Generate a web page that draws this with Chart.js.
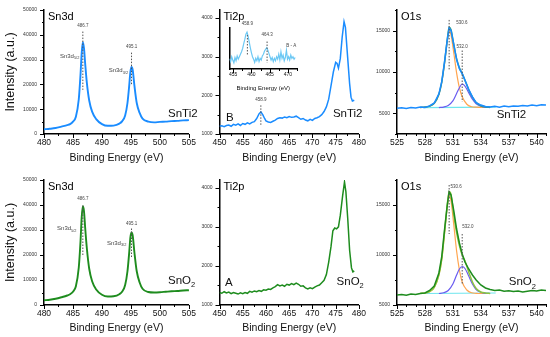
<!DOCTYPE html>
<html>
<head>
<meta charset="utf-8">
<script src="https://cdn.jsdelivr.net/npm/chart.js@4.4.0/dist/chart.umd.min.js"></script>
<style>
body { margin: 0; background: #fff; width: 550px; height: 337px; position: relative; overflow: hidden; }
canvas { position: absolute; }
</style>
</head>
<body>
<canvas id="p1" width="200" height="167" style="left:0;top:0"></canvas>
<canvas id="p2" width="190" height="167" style="left:180px;top:0"></canvas>
<canvas id="p3" width="190" height="167" style="left:360px;top:0"></canvas>
<canvas id="p4" width="200" height="167" style="left:0;top:170px"></canvas>
<canvas id="p5" width="190" height="167" style="left:180px;top:170px"></canvas>
<canvas id="p6" width="190" height="167" style="left:360px;top:170px"></canvas>
<canvas id="inset" width="90" height="76" style="left:214px;top:18px"></canvas>
<script>
// Sn3d spectra (binding energy, counts)
const sn3dX = [480,481,482,483,484,484.5,485,485.5,486,486.3,486.5,486.7,486.9,487.1,487.4,487.8,488.3,489,490,491,492,493,493.5,494,494.4,494.7,494.9,495.1,495.3,495.6,496,496.5,497,498,499,500,501,502,503,504,505]
const sn3dSnTi2 = [1900,2100,2400,3000,3600,4000,5000,7000,14000,24000,32500,37000,34500,28500,20500,13500,9000,6000,4000,3300,3400,4200,5200,7500,12500,19500,25000,27000,25800,19500,12500,8500,6200,5000,4700,4900,5000,5200,5300,5500,5600]
const sn3dSnO2 = [1900,2100,2500,3100,3800,4300,5300,7500,15000,25500,35000,39500,37500,31000,22500,14500,9500,6200,4100,3400,3500,4300,5400,8000,13500,21000,27000,29000,27800,21000,13500,9000,6500,5200,5000,5100,5300,5500,5600,5800,5900]
const sn3dPeaks = [486.7, 495.1]

// Ti2p region
const ti2pSnTi2X = [450,450.5,451,451.5,452,452.5,453,453.5,454,454.5,455,455.5,456,456.5,457,457.5,458,458.5,458.9,459.3,459.7,460,460.5,461,461.5,462,462.5,463,463.5,464,464.5,465,465.5,466,466.5,467,467.5,468,468.5,469,469.5,470,470.5,471,471.5,472,472.5,473,473.5,474,474.5,475,475.3,475.6,476,476.4,476.8,477.1,477.5,478,478.3,478.6,479]
const ti2pSnTi2 = [1200,1210,1190,1220,1230,1200,1250,1230,1260,1220,1270,1250,1290,1260,1300,1320,1400,1520,1570,1500,1400,1340,1310,1300,1330,1360,1400,1420,1410,1440,1420,1450,1430,1440,1460,1420,1380,1400,1360,1340,1380,1350,1400,1420,1450,1500,1580,1700,1900,2250,2600,2850,2820,2700,2950,3500,3900,3750,3100,2300,1950,1850,1870]
const ti2pSnO2X = [450,450.5,451,451.5,452,452.5,453,453.5,454,454.5,455,455.5,456,456.5,457,457.5,458,458.5,459,459.5,460,460.5,461,461.5,462,462.5,463,463.5,464,464.5,465,465.5,466,466.5,467,467.5,468,468.5,469,469.5,470,470.5,471,471.5,472,472.5,473,473.5,474,474.4,474.8,475.2,475.6,476,476.5,476.9,477.2,477.6,478,478.4,478.7,479]
const ti2pSnO2 = [1320,1300,1340,1310,1330,1290,1320,1300,1280,1310,1290,1320,1300,1350,1330,1360,1340,1370,1350,1390,1380,1410,1400,1440,1470,1520,1490,1510,1480,1530,1510,1550,1520,1560,1530,1480,1490,1440,1410,1440,1420,1460,1490,1510,1570,1630,1780,2100,2500,2900,2970,2950,3000,3300,3800,4150,3900,3200,2400,1950,1850,1870]
const ti2pPeak = [458.9]

// inset: difference spectrum B - A
const insetX = [454,454.3,454.6,454.9,455.2,455.5,455.8,456.1,456.4,456.7,457,457.3,457.6,457.9,458.2,458.5,458.8,459.1,459.4,459.7,460,460.3,460.6,460.9,461.2,461.5,461.8,462.1,462.4,462.7,463,463.3,463.6,463.9,464.2,464.5,464.8,465.1,465.4,465.7,466,466.3,466.6,466.9,467.2,467.5,467.8,468.1,468.4,468.7,469,469.3,469.6,469.9,470.2,470.5,470.8,471.1,471.4,471.7,472]
const insetDiff = [25,18,30,22,15,28,20,32,24,30,36,42,50,62,72,85,90,80,66,52,40,30,24,16,26,20,30,18,26,22,32,36,44,48,52,46,38,30,22,28,18,26,20,30,24,36,22,42,26,34,20,28,46,24,30,22,34,26,30,24,28]
const insetPeaks = [458.9, 464.3]

// O1s region
const o1sX = [525,525.5,526,526.5,527,527.5,528,528.5,529,529.5,529.8,530.1,530.4,530.6,530.8,531.1,531.4,531.7,532,532.3,532.7,533.1,533.5,534,534.5,535,535.5,536,536.5,537,537.5,538,538.5,539,539.5,540,540.5,541]
const o1sSnTi2 = [5600,5680,5580,5700,5650,5760,5720,5900,6250,7350,8800,11200,13900,15300,15000,13300,11500,10400,9800,9000,7900,7000,6300,6000,5820,5780,5850,5750,5880,5800,5900,5850,5950,5880,6000,5920,6050,6000]
const o1sSnO2 = [6000,6050,5980,6100,6060,6150,6200,6450,6900,8200,9800,12500,15000,16300,16000,14400,12600,11200,10100,9300,8600,8000,7500,7000,6700,6550,6450,6500,6380,6420,6350,6400,6300,6380,6450,6400,6500,6450]
const latticeX = [527.5,528,528.5,529,529.5,529.8,530.1,530.4,530.6,530.8,531.1,531.4,531.7,532,532.5,533,533.5,534,535]
const latticeSnTi2 = [5700,5750,5850,6200,7300,8700,11000,13700,14950,14500,12300,9900,8100,7000,6100,5800,5740,5720,5720]
const latticeSnO2 = [6150,6200,6320,6750,8000,9500,12100,14800,15900,15400,13000,10400,8500,7300,6500,6220,6170,6150,6150]
const surfaceX = [529.5,530,530.5,531,531.4,531.7,532,532.3,532.7,533.1,533.5,534,534.5,535]
const surfaceSnTi2 = [5700,5760,5950,6500,7400,8100,8550,8300,7500,6700,6150,5850,5740,5700]
const surfaceSnO2 = [6150,6220,6450,7100,8000,8600,8850,8650,7900,7100,6550,6280,6170,6150]
const envX = [527.5,528,528.5,529,529.5,529.8,530.1,530.4,530.6,530.8,531.1,531.4,531.7,532,532.3,532.7,533.1,533.5,534,534.5,535]
const envSnTi2 = [5720,5760,5870,6220,7320,8750,11100,13950,15400,15100,13300,11600,10500,9800,9000,7850,6950,6300,5920,5780,5740]
const envSnO2 = [6170,6210,6340,6770,8030,9560,12250,15050,16350,16050,13950,12250,10950,10000,9400,8300,7300,6650,6300,6200,6160]
const bgX = [527.8, 535.6]
const bgSnTi2 = [5680, 5760]
const bgSnO2 = [6150, 6200]
const o1sPeaks = [530.6, 532.0]

const FONT = "'Liberation Sans', Arial, sans-serif"
const blue = '#1a8cff'
const green = '#1e8c1e'
Chart.defaults.font.family = FONT
Chart.defaults.animation = false

function series(xs, ys, color, width, smooth) {
    return {
        data: xs.map((x, i) => ({ x: x, y: ys[i] })),
        borderColor: color,
        borderWidth: width || 1.5,
        pointRadius: 0,
        fill: false,
        cubicInterpolationMode: smooth ? 'monotone' : 'default',
        tension: 0
    }
}

function onStep(v, base, step) {
    const r = (v - base) / step
    return Math.abs(r - Math.round(r)) < 1e-6
}

// tick values on multiples of step between min and max
function stepList(min, max, step, base) {
    const out = []
    let k = Math.ceil((min - base) / step - 1e-9)
    for (let v = base + k * step; v <= max + 1e-9; v = base + (++k) * step) {
        out.push({ value: Math.round(v * 1000) / 1000 })
    }
    return out
}

function drawNote(ctx, n, xs, ys) {
    const px = xs.getPixelForValue(n.x), py = ys.getPixelForValue(n.y)
    const size = n.size || 5
    ctx.font = size + 'px ' + FONT
    const w1 = ctx.measureText(n.text).width
    let w2 = 0
    const subSize = size * 0.65
    if (n.sub) {
        ctx.font = subSize + 'px ' + FONT
        w2 = ctx.measureText(n.sub).width
    }
    const total = w1 + w2
    let sx = px
    if (n.align === 'right') sx = px - total
    else if (n.align !== 'left') sx = px - total / 2
    ctx.fillStyle = n.color || '#444'
    ctx.textBaseline = 'middle'
    ctx.textAlign = 'left'
    ctx.font = size + 'px ' + FONT
    ctx.fillText(n.text, sx, py)
    if (n.sub) {
        ctx.font = subSize + 'px ' + FONT
        ctx.fillText(n.sub, sx + w1, py + size * 0.38)
    }
}

const panelMarks = {
    id: 'panelMarks',
    afterDraw(chart, args, o) {
        const ctx = chart.ctx, a = chart.chartArea
        const xs = chart.scales.x, ys = chart.scales.y
        ctx.save()
        ctx.strokeStyle = '#000'
        ctx.lineWidth = 1
        xs.ticks.forEach(t => {
            const len = onStep(t.value, o.xBase, o.xMajor) ? 4 : 2
            const p = Math.round(xs.getPixelForValue(t.value)) + 0.5
            ctx.beginPath(); ctx.moveTo(p, a.bottom); ctx.lineTo(p, a.bottom + len); ctx.stroke()
        })
        if (o.yMinor) {
            ys.ticks.forEach(t => {
                const len = onStep(t.value, o.yBase, o.yMajor) ? 4 : 2
                const p = Math.round(ys.getPixelForValue(t.value)) + 0.5
                ctx.beginPath(); ctx.moveTo(a.left, p); ctx.lineTo(a.left - len, p); ctx.stroke()
            })
        }
        // dotted peak markers
        ctx.strokeStyle = '#555'
        ctx.setLineDash([1.5, 1.5])
        ;(o.dashes || []).forEach(d => {
            const p = xs.getPixelForValue(d.x)
            ctx.beginPath()
            ctx.moveTo(p, ys.getPixelForValue(d.y0))
            ctx.lineTo(p, ys.getPixelForValue(d.y1))
            ctx.stroke()
        })
        ctx.setLineDash([])
        if (o.title) {
            ctx.fillStyle = '#000'
            ctx.font = (o.titleSize || 11) + 'px ' + FONT
            ctx.textAlign = 'left'
            ctx.textBaseline = 'middle'
            ctx.fillText(o.title, a.left + 4, a.top + 7)
        }
        ;(o.notes || []).forEach(n => drawNote(ctx, n, xs, ys))
        ctx.restore()
    }
}

function panel(id, c) {
    const m = c.marks
    return new Chart(document.getElementById(id), {
        type: 'line',
        data: { datasets: c.datasets },
        options: {
            responsive: false,
            animation: false,
            layout: { padding: { top: c.padTop, right: c.padRight, left: 0, bottom: 0 } },
            plugins: {
                legend: { display: false },
                tooltip: { enabled: false },
                panelMarks: m
            },
            scales: {
                x: {
                    type: 'linear', min: c.xMin, max: c.xMax,
                    grid: { display: false, drawTicks: false },
                    border: { color: '#000', width: 1.5 },
                    ticks: {
                        autoSkip: false, maxRotation: 0,
                        padding: c.xPad || 4, color: '#111',
                        font: { size: c.xFont || 8.5 },
                        callback: v => onStep(v, m.xBase, m.xMajor) ? String(v) : ''
                    },
                    afterBuildTicks: s => { s.ticks = stepList(c.xMin, c.xMax, m.xMinor, m.xBase) },
                    title: {
                        display: true, text: 'Binding Energy (eV)', color: '#111',
                        font: { size: c.xTitleSize || 10.5 }, padding: { top: 0, bottom: c.xTitlePad || 3 }
                    },
                    afterFit: s => { s.height = c.xH }
                },
                y: {
                    type: 'linear', min: c.yMin, max: c.yMax,
                    grid: { display: false, drawTicks: false },
                    border: { color: '#000', width: 1.5 },
                    ticks: {
                        display: c.yLabels !== false,
                        autoSkip: false,
                        padding: 7, color: '#333',
                        font: { size: 5 },
                        callback: v => onStep(v, m.yBase, m.yMajor) ? String(v) : ''
                    },
                    afterBuildTicks: s => {
                        if (m.yMinor) s.ticks = stepList(c.yMin, c.yMax, m.yMinor, m.yBase)
                    },
                    title: {
                        display: !!c.yTitle, text: 'Intensity (a.u.)', color: '#111',
                        font: { size: 12.5 }, padding: { top: 3, bottom: 0 }
                    },
                    afterFit: s => { s.width = c.yW }
                }
            }
        },
        plugins: [panelMarks]
    })
}

// Sn3d, SnTi2
panel('p1', {
    datasets: [series(sn3dX, sn3dSnTi2, blue, 1.9, true)],
    xMin: 480, xMax: 505, yMin: 0, yMax: 50000, yW: 44, xH: 33, padTop: 5, padRight: 5, yTitle: true,
    marks: {
        xBase: 480, xMinor: 2.5, xMajor: 5, yBase: 0, yMinor: 5000, yMajor: 10000, title: 'Sn3d',
        dashes: [{ x: sn3dPeaks[0], y0: 41300, y1: 17800 }, { x: sn3dPeaks[1], y0: 32800, y1: 19800 }],
        notes: [
            { x: sn3dPeaks[0], y: 43500, text: String(sn3dPeaks[0]), size: 4.5 },
            { x: sn3dPeaks[1], y: 35000, text: String(sn3dPeaks[1]), size: 4.5 },
            { x: 486.1, y: 31500, text: 'Sn3d', sub: '5/2', size: 6, align: 'right' },
            { x: 494.5, y: 25500, text: 'Sn3d', sub: '3/2', size: 6, align: 'right' },
            { x: 501.4, y: 8200, text: 'SnTi2', size: 11.5, align: 'left', color: '#111' }
        ]
    }
})

// Ti2p, SnTi2
panel('p2', {
    datasets: [series(ti2pSnTi2X, ti2pSnTi2, blue, 1.5)],
    xMin: 450, xMax: 480, yMin: 1000, yMax: 4200, yW: 39.5, xH: 33, padTop: 5, padRight: 5,
    marks: {
        xBase: 450, xMinor: 2.5, xMajor: 5, yBase: 1000, yMinor: 500, yMajor: 1000, title: 'Ti2p',
        dashes: [{ x: ti2pPeak[0], y0: 1740, y1: 1200 }],
        notes: [
            { x: ti2pPeak[0], y: 1880, text: String(ti2pPeak[0]), size: 4.5 },
            { x: 452.2, y: 1410, text: 'B', size: 11.5, color: '#111' },
            { x: 474.4, y: 1530, text: 'SnTi2', size: 11.5, align: 'left', color: '#111' }
        ]
    }
})

// O1s, SnTi2
panel('p3', {
    datasets: [
        series(o1sX, o1sSnTi2, blue, 1.5),
        series(envX, envSnTi2, '#2f9e86', 1.5, true),
        series(surfaceX, surfaceSnTi2, '#6a5cf0', 1.2, true),
        series(latticeX, latticeSnTi2, '#ffa54f', 1.2, true),
        series(bgX, bgSnTi2, '#6fe6ee', 1.2)
    ],
    xMin: 525, xMax: 541, yMin: 2500, yMax: 17500, yW: 37, xH: 33, padTop: 5, padRight: 3,
    marks: {
        xBase: 525, xMinor: 1, xMajor: 3, yBase: 0, yMinor: 2500, yMajor: 5000, title: 'O1s',
        dashes: [{ x: o1sPeaks[0], y0: 16300, y1: 10300 }, { x: o1sPeaks[1], y0: 12600, y1: 6400 }],
        notes: [
            { x: 531.35, y: 15980, text: o1sPeaks[0].toFixed(1), size: 4.5, align: 'left' },
            { x: o1sPeaks[1], y: 13080, text: o1sPeaks[1].toFixed(1), size: 4.5 },
            { x: 535.7, y: 4840, text: 'SnTi2', size: 11.5, align: 'left', color: '#111' }
        ]
    }
})

// Sn3d, SnO2
panel('p4', {
    datasets: [series(sn3dX, sn3dSnO2, green, 1.9, true)],
    xMin: 480, xMax: 505, yMin: 0, yMax: 50000, yW: 44, xH: 32, padTop: 6, padRight: 5, yTitle: true,
    marks: {
        xBase: 480, xMinor: 2.5, xMajor: 5, yBase: 0, yMinor: 5000, yMajor: 10000, title: 'Sn3d',
        dashes: [{ x: sn3dPeaks[0], y0: 39800, y1: 19400 }, { x: sn3dPeaks[1], y0: 30600, y1: 18700 }],
        notes: [
            { x: sn3dPeaks[0], y: 42400, text: String(sn3dPeaks[0]), size: 4.5 },
            { x: sn3dPeaks[1], y: 32600, text: String(sn3dPeaks[1]), size: 4.5 },
            { x: 485.6, y: 30600, text: 'Sn3d', sub: '5/2', size: 6, align: 'right' },
            { x: 494.2, y: 24800, text: 'Sn3d', sub: '3/2', size: 6, align: 'right' },
            { x: 501.4, y: 9700, text: 'SnO', sub: '2', size: 11.5, align: 'left', color: '#111' }
        ]
    }
})

// Ti2p, SnO2
panel('p5', {
    datasets: [series(ti2pSnO2X, ti2pSnO2, green, 1.5)],
    xMin: 450, xMax: 480, yMin: 1000, yMax: 4200, yW: 39.5, xH: 32, padTop: 6, padRight: 5,
    marks: {
        xBase: 450, xMinor: 2.5, xMajor: 5, yBase: 1000, yMinor: 500, yMajor: 1000, title: 'Ti2p',
        notes: [
            { x: 452, y: 1570, text: 'A', size: 11.5, color: '#111' },
            { x: 475.2, y: 1600, text: 'SnO', sub: '2', size: 11.5, align: 'left', color: '#111' }
        ]
    }
})

// O1s, SnO2
panel('p6', {
    datasets: [
        series(o1sX, o1sSnO2, green, 1.5),
        series(envX, envSnO2, '#8cc63f', 1.5, true),
        series(surfaceX, surfaceSnO2, '#6a5cf0', 1.2, true),
        series(latticeX, latticeSnO2, '#ffa54f', 1.2, true),
        series(bgX, bgSnO2, '#6fe6ee', 1.2)
    ],
    xMin: 525, xMax: 541, yMin: 5000, yMax: 17500, yW: 37, xH: 32, padTop: 6, padRight: 3,
    marks: {
        xBase: 525, xMinor: 1, xMajor: 3, yBase: 0, yMinor: 2500, yMajor: 5000, title: 'O1s',
        dashes: [{ x: o1sPeaks[0], y0: 17000, y1: 12100 }, { x: o1sPeaks[1], y0: 12100, y1: 7150 }],
        notes: [
            { x: 530.75, y: 16860, text: o1sPeaks[0].toFixed(1), size: 4.5, align: 'left' },
            { x: o1sPeaks[1], y: 12860, text: o1sPeaks[1].toFixed(1), size: 4.5, align: 'left' },
            { x: 537, y: 7270, text: 'SnO', sub: '2', size: 11.5, align: 'left', color: '#111' }
        ]
    }
})

// inset B - A
panel('inset', {
    datasets: [series(insetX, insetDiff, '#6cc8f4', 1.2)],
    xMin: 454, xMax: 472.5, yMin: 0, yMax: 100, yW: 15.5, xH: 25, padTop: 10, padRight: 7,
    yLabels: false, xFont: 5, xPad: 3, xTitleSize: 6, xTitlePad: 2,
    marks: {
        xBase: 455, xMinor: 2.5, xMajor: 5,
        dashes: [{ x: insetPeaks[0], y0: 83, y1: 34 }, { x: insetPeaks[1], y0: 67, y1: 15 }],
        notes: [
            { x: insetPeaks[0], y: 110, text: String(insetPeaks[0]), size: 4.5 },
            { x: insetPeaks[1], y: 83, text: String(insetPeaks[1]), size: 4.5 },
            { x: 470.9, y: 56, text: 'B - A', size: 4.5 }
        ]
    }
})
</script>
</body>
</html>
